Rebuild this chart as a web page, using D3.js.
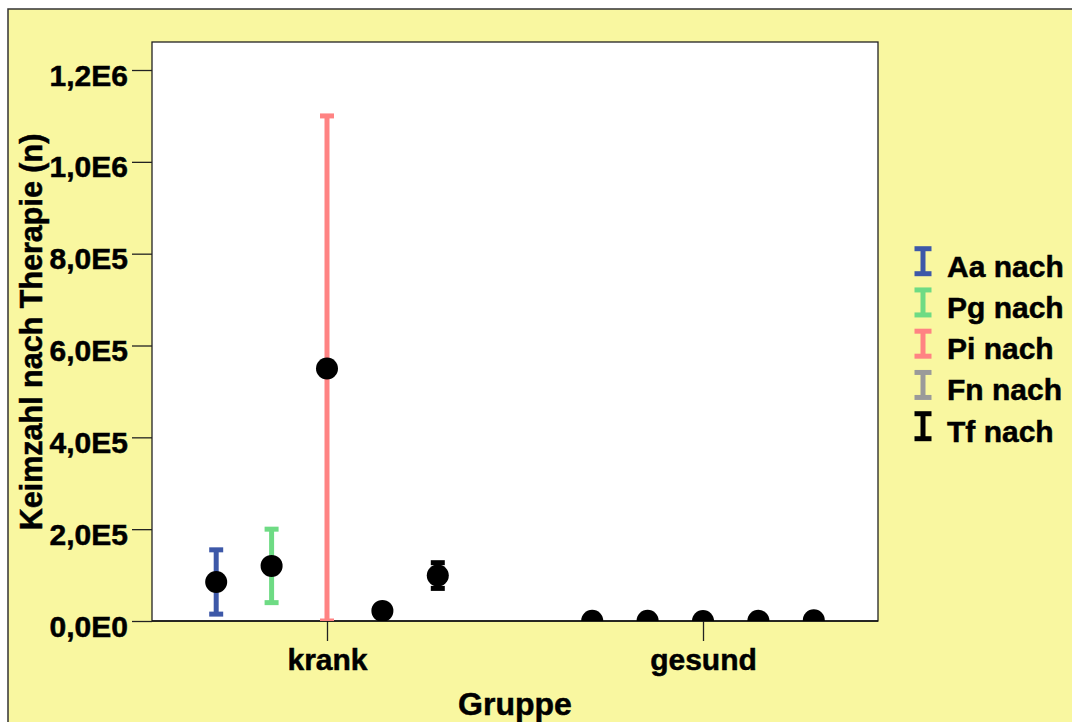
<!DOCTYPE html>
<html>
<head>
<meta charset="utf-8">
<script src="https://cdn.jsdelivr.net/npm/d3@7"></script>
<style>
  body { margin: 0; background: #ffffff; }
  text { font-family: "Liberation Sans", Arial, Helvetica, sans-serif; font-weight: bold; fill: #000; stroke: #000; stroke-width: 0.5px; }
</style>
</head>
<body>
<svg id="chart" width="1072" height="722"></svg>
<script>
// Groups on the x axis and the bacteria series plotted within each group
const groups = ["krank", "gesund"];
const series = ["Aa nach", "Pg nach", "Pi nach", "Fn nach", "Tf nach"];
const seriesColors = ["#3d58a8", "#6edb84", "#ff8383", "#9a9a9a", "#000000"];

// Mean bacterial count after therapy, per series: [krank, gesund]
const meanAa = [85000, 500];
const meanPg = [120000, 300];
const meanPi = [550000, 200];
const meanFn = [22000, 400];
const meanTf = [99000, 1500];

// Half-length of the error bar, per series: [krank, gesund]
const errAa = [70000, 300];
const errPg = [80000, 200];
const errPi = [550000, 150];
const errFn = [8000, 300];
const errTf = [28000, 800];

const yTicks = [0, 200000, 400000, 600000, 800000, 1000000, 1200000];
const yTickLabels = ["0,0E0", "2,0E5", "4,0E5", "6,0E5", "8,0E5", "1,0E6", "1,2E6"];

const means = [meanAa, meanPg, meanPi, meanFn, meanTf];
const errs = [errAa, errPg, errPi, errFn, errTf];

const rows = [];
series.forEach((s, si) => {
  groups.forEach((g, gi) => {
    rows.push({ series: s, color: seriesColors[si], group: g, mean: means[si][gi], err: errs[si][gi] });
  });
});

const svg = d3.select("#chart");
const plot = { left: 152, top: 42, right: 878, bottom: 621 };

// Yellow chart background with frame
svg.append("rect")
  .attr("x", 8).attr("y", 9).attr("width", 1100).attr("height", 800)
  .attr("fill", "#f9f7a0").attr("stroke", "#333").attr("stroke-width", 1.5);

// White plotting area
svg.append("rect")
  .attr("x", plot.left).attr("y", plot.top)
  .attr("width", plot.right - plot.left).attr("height", plot.bottom - plot.top)
  .attr("fill", "#ffffff").attr("stroke", "#222").attr("stroke-width", 1.3);

const y = d3.scaleLinear().domain([0, 1261000]).range([plot.bottom, plot.top]);
const x = d3.scalePoint().domain(groups).range([plot.left, plot.right]).padding(0.4654);
const inner = d3.scalePoint().domain(series).range([-110.8, 110.8]);

// Y axis
const yAxis = svg.append("g")
  .attr("transform", `translate(${plot.left},0)`)
  .call(d3.axisLeft(y).tickValues(yTicks).tickFormat((d, i) => yTickLabels[i]).tickSize(20).tickPadding(4));
yAxis.select(".domain").remove();
yAxis.selectAll("line").attr("stroke", "#222").attr("stroke-width", 1.3);
yAxis.selectAll("text").attr("font-size", 30).attr("dy", "0.5em")
  .style("font-family", "'Liberation Sans', Arial, sans-serif").style("font-weight", "bold");

// X axis
const xAxis = svg.append("g")
  .attr("transform", `translate(0,${plot.bottom})`)
  .call(d3.axisBottom(x).tickSize(20).tickPadding(8));
xAxis.select(".domain").remove();
xAxis.selectAll("line").attr("stroke", "#222").attr("stroke-width", 1.3);
xAxis.selectAll("text").attr("font-size", 30)
  .style("font-family", "'Liberation Sans', Arial, sans-serif").style("font-weight", "bold");

// Bottom axis line drawn over the plot frame
svg.append("line")
  .attr("x1", plot.left).attr("x2", plot.right)
  .attr("y1", plot.bottom).attr("y2", plot.bottom)
  .attr("stroke", "#111").attr("stroke-width", 1.5);

// Axis titles
svg.append("text")
  .attr("x", (plot.left + plot.right) / 2).attr("y", 715)
  .attr("text-anchor", "middle").attr("font-size", 32)
  .text("Gruppe");

svg.append("text")
  .attr("transform", "translate(42,332) rotate(-90)")
  .attr("text-anchor", "middle").attr("font-size", 30.5)
  .text("Keimzahl nach Therapie (n)");

// Data marks, clipped to the plotting area
svg.append("clipPath").attr("id", "plot-clip")
  .append("rect")
  .attr("x", plot.left).attr("y", plot.top)
  .attr("width", plot.right - plot.left).attr("height", plot.bottom - plot.top);

const marks = svg.append("g").attr("clip-path", "url(#plot-clip)");
const cx = d => x(d.group) + inner(d.series);
const capHalf = 7;

const bars = marks.append("g").selectAll("g").data(rows).join("g")
  .attr("stroke", d => d.color).attr("stroke-width", 5);
bars.append("line")
  .attr("x1", cx).attr("x2", cx)
  .attr("y1", d => y(d.mean - d.err)).attr("y2", d => y(d.mean + d.err));
bars.append("line")
  .attr("x1", d => cx(d) - capHalf).attr("x2", d => cx(d) + capHalf)
  .attr("y1", d => y(d.mean + d.err)).attr("y2", d => y(d.mean + d.err));
bars.append("line")
  .attr("x1", d => cx(d) - capHalf).attr("x2", d => cx(d) + capHalf)
  .attr("y1", d => y(d.mean - d.err)).attr("y2", d => y(d.mean - d.err));

marks.append("g").selectAll("circle").data(rows).join("circle")
  .attr("cx", cx).attr("cy", d => y(d.mean)).attr("r", 11)
  .attr("fill", "#000");

// Legend
const legend = svg.append("g");
const legendRow = d3.scalePoint().domain(series).range([276.7, 441.7]);
const items = legend.selectAll("g").data(series).join("g")
  .attr("transform", s => `translate(0,${legendRow(s)})`);
const icon = items.append("g")
  .attr("stroke", (s, i) => seriesColors[i]).attr("stroke-width", 5);
icon.append("line").attr("x1", 923).attr("x2", 923).attr("y1", -28.5).attr("y2", -2.5);
icon.append("line").attr("x1", 914.5).attr("x2", 931.5).attr("y1", -28).attr("y2", -28);
icon.append("line").attr("x1", 914.5).attr("x2", 931.5).attr("y1", -3).attr("y2", -3);
items.append("text").attr("x", 947).attr("y", 0).attr("font-size", 30).text(s => s);
</script>
</body>
</html>
